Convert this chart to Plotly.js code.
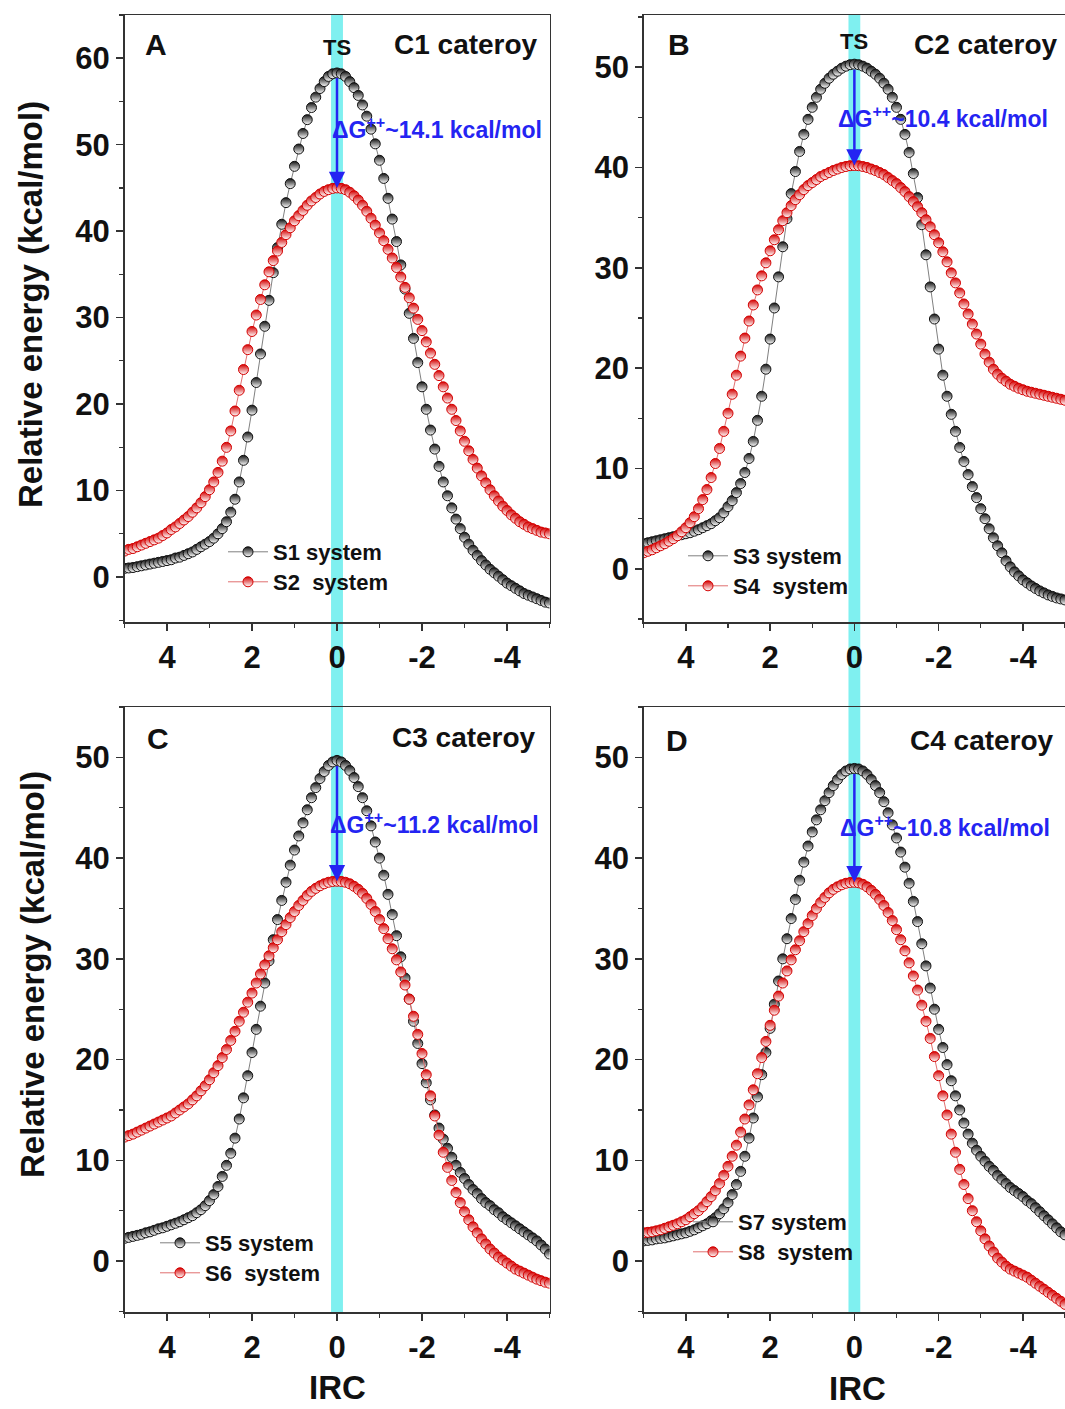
<!DOCTYPE html>
<html>
<head>
<meta charset="utf-8">
<script src="https://cdn.plot.ly/plotly-3.0.1.min.js"></script>
<style>html,body{margin:0;padding:0;background:#fff;}#chart{width:1065px;height:1409px;}</style>
</head>
<body>
<div id="chart"></div>
<script>
// IRC coordinate (shared by all series)
const irc = [5.0,4.9,4.8,4.7,4.6,4.5,4.4,4.3,4.2,4.1,4.0,3.9,3.8,3.7,3.6,3.5,3.4,3.3,3.2,3.1,
3.0,2.9,2.8,2.7,2.6,2.5,2.4,2.3,2.2,2.1,2.0,1.9,1.8,1.7,1.6,1.5,1.4,1.3,1.2,1.1,
1.0,0.9,0.8,0.7,0.6,0.5,0.4,0.3,0.2,0.1,0.0,
-0.1,-0.2,-0.3,-0.4,-0.5,-0.6,-0.7,-0.8,-0.9,-1.0,-1.1,-1.2,-1.3,-1.4,-1.5,-1.6,-1.7,-1.8,-1.9,-2.0,
-2.1,-2.2,-2.3,-2.4,-2.5,-2.6,-2.7,-2.8,-2.9,-3.0,-3.1,-3.2,-3.3,-3.4,-3.5,-3.6,-3.7,-3.8,-3.9,-4.0,
-4.1,-4.2,-4.3,-4.4,-4.5,-4.6,-4.7,-4.8,-4.9,-5.0];

// Panel A (C1 cateroy)
const s1 = [1.0,1.05,1.1,1.2,1.3,1.4,1.5,1.6,1.7,1.8,
1.9,2.0,2.2,2.3,2.5,2.7,2.9,3.2,3.5,3.8,
4.1,4.5,5.0,5.6,6.4,7.5,9.0,11.0,13.5,16.2,
19.3,22.5,25.8,29.0,32.0,35.2,38.1,40.8,43.3,45.5,
47.5,49.5,51.3,52.9,54.3,55.5,56.5,57.3,57.9,58.2,
58.3,
58.2,57.9,57.3,56.6,55.7,54.6,53.3,51.8,50.1,48.2,
46.1,43.8,41.4,38.8,36.1,33.3,30.5,27.6,24.8,22.0,
19.4,17.0,14.8,12.8,11.0,9.4,8.0,6.7,5.6,4.6,
3.8,3.1,2.5,1.9,1.4,0.9,0.5,0.1,-0.3,-0.7,
-1.0,-1.3,-1.6,-1.9,-2.1,-2.3,-2.5,-2.7,-2.9,-3.0];
const s2 = [3.0,3.2,3.3,3.5,3.7,3.9,4.1,4.3,4.5,4.8,
5.1,5.5,5.8,6.2,6.6,7.0,7.5,8.0,8.6,9.3,
10.1,11.0,12.1,13.4,15.0,16.9,19.2,21.6,24.0,26.3,
28.4,30.3,32.1,33.8,35.3,36.6,37.7,38.7,39.6,40.4,
41.2,41.8,42.4,43.0,43.5,43.9,44.3,44.6,44.8,44.95,
45.0,
44.95,44.8,44.5,44.1,43.6,43.0,42.3,41.5,40.7,39.8,
38.9,37.9,36.9,35.8,34.7,33.5,32.3,31.1,29.8,28.5,
27.2,25.9,24.6,23.3,22.0,20.7,19.4,18.1,16.9,15.7,
14.6,13.6,12.6,11.7,10.9,10.1,9.4,8.8,8.2,7.7,
7.2,6.8,6.4,6.1,5.8,5.6,5.4,5.2,5.1,5.0];

// Panel B (C2 cateroy)
const s3 = [2.5,2.6,2.7,2.8,2.9,3.0,3.1,3.2,3.3,3.4,
3.5,3.6,3.75,3.9,4.1,4.3,4.5,4.8,5.1,5.6,
6.2,6.8,7.6,8.5,9.6,11.0,12.7,14.8,17.2,19.9,
22.9,26.0,29.1,32.1,34.9,37.4,39.6,41.6,43.3,44.8,
46.0,47.0,47.8,48.4,48.9,49.3,49.6,49.9,50.1,50.25,
50.3,
50.25,50.1,49.9,49.6,49.3,48.9,48.4,47.8,47.0,46.0,
44.8,43.3,41.5,39.4,37.0,34.3,31.3,28.1,24.9,21.9,
19.3,17.2,15.4,13.7,12.1,10.7,9.4,8.2,7.1,6.0,
5.0,4.0,3.1,2.3,1.6,0.8,0.2,-0.3,-0.7,-1.1,
-1.4,-1.7,-1.95,-2.2,-2.4,-2.6,-2.75,-2.9,-3.0,-3.1];
const s4 = [1.6,1.75,1.9,2.1,2.3,2.5,2.75,3.0,3.3,3.7,
4.1,4.6,5.2,6.0,6.9,7.9,9.1,10.5,12.0,13.7,
15.5,17.4,19.3,21.2,23.0,24.7,26.3,27.8,29.2,30.5,
31.7,32.8,33.8,34.7,35.5,36.2,36.8,37.3,37.8,38.2,
38.5,38.8,39.1,39.3,39.5,39.7,39.85,40.0,40.1,40.18,
40.2,
40.18,40.1,40.0,39.85,39.7,39.5,39.3,39.0,38.7,38.4,
38.0,37.6,37.1,36.6,36.1,35.5,34.8,34.1,33.3,32.5,
31.6,30.6,29.5,28.5,27.5,26.4,25.4,24.4,23.4,22.4,
21.4,20.6,19.9,19.4,19.0,18.7,18.4,18.2,18.0,17.85,
17.7,17.6,17.5,17.4,17.3,17.2,17.1,17.0,16.9,16.8];

// Panel C (C3 cateroy)
const s5 = [2.25,2.35,2.45,2.55,2.65,2.8,2.9,3.05,3.2,3.3,
3.45,3.6,3.75,3.9,4.1,4.3,4.5,4.8,5.1,5.5,
6.0,6.6,7.4,8.4,9.5,10.7,12.2,14.1,16.2,18.4,
20.7,23.0,25.3,27.6,29.8,31.9,33.9,35.8,37.6,39.3,
40.8,42.2,43.5,44.8,46.0,47.0,47.9,48.6,49.2,49.55,
49.7,
49.55,49.2,48.7,48.0,47.1,46.0,44.7,43.2,41.6,40.0,
38.3,36.4,34.4,32.3,30.2,28.1,26.0,23.8,21.6,19.6,
17.7,16.0,14.5,13.2,12.1,11.2,10.3,9.5,8.8,8.2,
7.6,7.1,6.7,6.2,5.8,5.5,5.1,4.8,4.4,4.1,
3.8,3.5,3.2,2.9,2.6,2.3,2.0,1.6,1.2,0.7];
const s6 = [12.3,12.45,12.6,12.8,13.0,13.2,13.4,13.6,13.8,14.0,
14.2,14.4,14.7,15.0,15.3,15.6,16.0,16.4,16.9,17.4,
18.0,18.7,19.4,20.2,21.0,21.9,22.8,23.8,24.7,25.7,
26.6,27.6,28.5,29.4,30.3,31.1,31.9,32.7,33.4,34.1,
34.7,35.3,35.8,36.3,36.7,37.0,37.25,37.45,37.6,37.68,
37.7,
37.68,37.6,37.45,37.2,36.9,36.5,36.0,35.4,34.7,33.9,
33.0,32.0,31.0,29.9,28.7,27.4,26.0,24.3,22.5,20.6,
18.5,16.4,14.4,12.5,10.8,9.3,8.0,6.8,5.8,4.9,
4.1,3.4,2.8,2.2,1.7,1.2,0.8,0.4,0.1,-0.2,
-0.5,-0.8,-1.0,-1.2,-1.4,-1.6,-1.8,-1.95,-2.1,-2.2];

// Panel D (C4 cateroy)
const s7 = [2.0,2.05,2.1,2.2,2.25,2.3,2.4,2.5,2.6,2.7,
2.8,2.95,3.1,3.3,3.5,3.7,4.0,4.3,4.7,5.2,
5.8,6.6,7.6,8.9,10.4,12.2,14.2,16.3,18.5,20.7,
23.1,25.5,27.8,30.0,32.0,34.0,35.9,37.8,39.6,41.2,
42.6,43.8,44.8,45.7,46.5,47.2,47.8,48.3,48.65,48.85,
48.9,
48.85,48.65,48.3,47.8,47.2,46.5,45.6,44.5,43.3,42.0,
40.6,39.1,37.5,35.7,33.7,31.5,29.3,27.1,25.0,23.0,
21.2,19.5,17.9,16.4,15.0,13.7,12.6,11.7,11.0,10.4,
9.9,9.4,9.0,8.5,8.1,7.7,7.3,7.0,6.7,6.4,
6.0,5.7,5.3,4.9,4.5,4.1,3.7,3.3,2.9,2.6];
const s8 = [2.8,2.85,2.9,3.0,3.1,3.25,3.4,3.55,3.7,3.9,
4.1,4.4,4.7,5.0,5.4,5.9,6.4,7.0,7.7,8.5,
9.4,10.4,11.5,12.8,14.1,15.5,17.0,18.6,20.2,21.8,
23.4,24.9,26.3,27.6,28.8,29.9,30.9,31.8,32.7,33.5,
34.3,35.0,35.6,36.1,36.55,36.9,37.15,37.35,37.5,37.58,
37.6,
37.55,37.4,37.15,36.8,36.4,35.9,35.3,34.6,33.8,32.9,
31.9,30.8,29.6,28.3,26.9,25.4,23.8,22.1,20.3,18.4,
16.4,14.5,12.6,10.8,9.1,7.6,6.2,5.0,3.9,3.0,
2.2,1.5,0.9,0.3,-0.1,-0.5,-0.8,-1.0,-1.2,-1.4,
-1.6,-1.9,-2.2,-2.5,-2.8,-3.1,-3.4,-3.7,-4.0,-4.3];

const seriesNames = ['S1 system','S2\u00a0\u00a0system','S3 system','S4\u00a0\u00a0system',
                     'S5 system','S6\u00a0\u00a0system','S7 system','S8\u00a0\u00a0system'];
const panelLetters = ['A','B','C','D'];
const categoryLabels = ['C1 cateroy','C2 cateroy','C3 cateroy','C4 cateroy'];
const barrierLabels = ['14.1','10.4','11.2','10.8'];
const tsPeaks = [58.3, 50.3, 49.7, 48.9];
const lowPeaks = [45.0, 40.2, 37.7, 37.6];
const xTicks = [4,2,0,-2,-4];

const FONT = 'Liberation Sans, Arial, Helvetica, sans-serif';
const W = 1065, H = 1409;
const px = v => v / W;
const py = v => 1 - v / H;

const seriesData = [s1,s2,s3,s4,s5,s6,s7,s8];
const axesOf = [['x','y'],['x','y'],['x2','y2'],['x2','y2'],['x3','y3'],['x3','y3'],['x4','y4'],['x4','y4']];
// legend placement (paper coords) for each series
const legPos = [[223,552],[223,582],[683,556],[683,586],[155,1243],[155,1273],[688,1222],[688,1252]];

const traces = seriesData.map((d,i) => {
  const red = i % 2 === 1;
  const col = red ? '#d40000' : '#111111';
  return {
    type: 'scatter', mode: 'lines+markers',
    x: irc, y: d, name: seriesNames[i],
    xaxis: axesOf[i][0], yaxis: axesOf[i][1],
    legend: i === 0 ? 'legend' : 'legend' + (i+1),
    line: {color: red ? '#e07070' : '#808080', width: 1},
    marker: {symbol: 'circle', size: 10, color: col,
             line: {color: col, width: 1},
             gradient: {type: 'vertical', color: '#ffffff'}}
  };
});

function xAxis(domain, anchor) {
  return {
    domain: domain, anchor: anchor, range: [5, -5],
    tickmode: 'array', tickvals: xTicks, ticktext: xTicks.map(String),
    showline: true, linecolor: '#333', linewidth: 1.5, mirror: true,
    ticks: 'outside', ticklen: 7, tickwidth: 1.5, tickcolor: '#333',
    minor: {ticks: 'outside', ticklen: 4, tickwidth: 1.2, tickcolor: '#333', tickmode: 'linear', tick0: 1, dtick: 2},
    showgrid: false, zeroline: false, automargin: false, fixedrange: true,
    tickfont: {family: FONT, size: 31, color: '#111', weight: 'bold'}
  };
}
function yAxis(domain, anchor, range) {
  return {
    domain: domain, anchor: anchor, range: range,
    tickmode: 'linear', tick0: 0, dtick: 10,
    showline: true, linecolor: '#333', linewidth: 1.5, mirror: true,
    ticks: 'outside', ticklen: 7, tickwidth: 1.5, tickcolor: '#333',
    minor: {ticks: 'outside', ticklen: 4, tickwidth: 1.2, tickcolor: '#333', tickmode: 'linear', tick0: 5, dtick: 10},
    showgrid: false, zeroline: false, automargin: false, fixedrange: true,
    tickfont: {family: FONT, size: 31, color: '#111', weight: 'bold'}
  };
}

const xL = [px(124.5), px(549.5)], xR = [px(643.75), 1.0];
const yTop = [py(622), py(15)], yBot = [py(1312), py(707)];

const layout = {
  width: W, height: H,
  margin: {l: 0, r: 0, t: 0, b: 0},
  paper_bgcolor: '#ffffff', plot_bgcolor: 'rgba(0,0,0,0)',
  showlegend: true,
  xaxis: xAxis(xL, 'y'), yaxis: yAxis(yTop, 'x', [-5.2, 65]),
  xaxis2: xAxis(xR, 'y2'), yaxis2: yAxis(yTop, 'x2', [-5.3, 55.2]),
  xaxis3: xAxis(xL, 'y3'), yaxis3: yAxis(yBot, 'x3', [-5.06, 55]),
  xaxis4: xAxis(xR, 'y4'), yaxis4: yAxis(yBot, 'x4', [-5.06, 55]),
  shapes: [
    {type: 'rect', xref: 'x', yref: 'paper', x0: -0.14, x1: 0.14, y0: py(1312), y1: py(15),
     fillcolor: '#7ff0f0', line: {width: 0}, layer: 'below'},
    {type: 'rect', xref: 'x2', yref: 'paper', x0: -0.14, x1: 0.14, y0: py(1312), y1: py(15),
     fillcolor: '#7ff0f0', line: {width: 0}, layer: 'below'}
  ],
  annotations: []
};

// legends
legPos.forEach((p, i) => {
  const key = i === 0 ? 'legend' : 'legend' + (i+1);
  layout[key] = {x: px(p[0]), y: py(p[1]), xanchor: 'left', yanchor: 'middle',
    bgcolor: 'rgba(0,0,0,0)', borderwidth: 0, itemwidth: 40,
    font: {family: FONT, size: 22, color: '#111', weight: 'bold'}};
});

const ann = layout.annotations;
const bold = (txt, x, y, size, opts) => Object.assign({text: txt, x: x, y: y, xref: 'paper', yref: 'paper',
  xanchor: 'center', yanchor: 'middle',
  showarrow: false, font: {family: FONT, size: size, color: '#111', weight: 'bold'}}, opts || {});

// panel letters
ann.push(bold(panelLetters[0], px(156), py(45), 30));
ann.push(bold(panelLetters[1], px(679), py(45), 30));
ann.push(bold(panelLetters[2], px(158), py(738), 30));
ann.push(bold(panelLetters[3], px(677), py(740), 30));
// category labels
ann.push(bold(categoryLabels[0], px(540), py(45), 28, {xanchor: 'right'}));
ann.push(bold(categoryLabels[1], px(912), py(45), 28, {xanchor: 'left'}));
ann.push(bold(categoryLabels[2], px(538), py(737), 28, {xanchor: 'right'}));
ann.push(bold(categoryLabels[3], px(908), py(740), 28, {xanchor: 'left'}));
// TS labels
ann.push(bold('TS', 0, py(48), 22, {xref: 'x'}));
ann.push(bold('TS', 0, py(42), 22, {xref: 'x2'}));
// barrier labels
const blue = '#2424f2';
const gPos = [[330,128],[836,117],[328,823],[838,826]];
gPos.forEach((p, i) => {
  ann.push({text: '\u0394G<sup>++</sup>~' + barrierLabels[i] + ' kcal/mol', x: px(p[0]), y: py(p[1]),
    xref: 'paper', yref: 'paper', xanchor: 'left', yanchor: 'middle', showarrow: false,
    font: {family: FONT, size: 23, color: blue, weight: 'bold'}});
});
// arrows
const axPairs = [['x','y'],['x2','y2'],['x3','y3'],['x4','y4']];
axPairs.forEach((a, i) => {
  ann.push({text: '', x: 0, y: lowPeaks[i], ax: 0, ay: tsPeaks[i] - 0.4,
    xref: a[0], yref: a[1], axref: a[0], ayref: a[1],
    showarrow: true, arrowhead: 2, arrowsize: 1.3, arrowwidth: 2.5, arrowcolor: blue, standoff: 0});
});
// axis titles
ann.push(bold('Relative energy (kcal/mol)', px(30), py(305), 33, {textangle: -90}));
ann.push(bold('Relative energy (kcal/mol)', px(32), py(975), 33, {textangle: -90}));
ann.push(bold('IRC', px(337), py(1387), 33));
ann.push(bold('IRC', px(857), py(1388), 33));

Plotly.newPlot('chart', traces, layout, {staticPlot: true, displayModeBar: false});
</script>
</body>
</html>
